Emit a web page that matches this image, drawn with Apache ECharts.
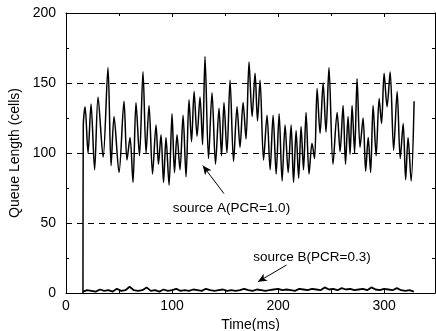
<!DOCTYPE html>
<html>
<head>
<meta charset="utf-8">
<script src="https://cdn.jsdelivr.net/npm/echarts@6/dist/echarts.min.js"></script>
<style>html,body{margin:0;padding:0;background:#fff}#c{width:436px;height:331px}</style>
</head>
<body>
<div id="c"></div>
<script>
// Source A (PCR=1.0): time (ms) and queue length (cells)
const timeA = [16, 16.3, 18, 20.8, 23.6, 27, 30.2, 35, 39.6, 42.5, 45.3, 50, 54.7, 57.5, 60.4, 63.2, 66, 69.3, 72.6, 75.5, 78.3, 81.6, 84.9, 87.2, 89.6, 92, 94.3, 97.2, 100, 102.3, 104.7, 107.5, 110.4, 113.2, 116, 118.4, 120.8, 123.6, 126.4, 128.8, 131.1, 134.4, 137.7, 141, 144.3, 146.7, 149, 151.8, 154.7, 158, 161.3, 164.1, 167, 169.8, 172.6, 175.5, 178.3, 180.6, 183, 186.3, 189.6, 192.5, 195.3, 198.2, 201, 203.8, 206.6, 209.5, 212.3, 214.6, 217, 219.4, 221.7, 224, 226.4, 229.2, 232, 234.4, 236.8, 239.6, 242.5, 245.2, 248, 251.8, 255.7, 258.5, 261.3, 263.6, 266, 267.9, 269.8, 272.2, 274.5, 277.3, 280.2, 282.6, 285, 287.3, 289.6, 292.5, 295.3, 297.6, 300, 302.8, 305.7, 309, 312.3, 315.2, 318, 320.3, 322.6, 325.5, 328.3];
const queueA = [0, 120, 133, 100, 135, 88, 140, 97, 161, 91, 126, 86, 137, 95, 111, 79, 136, 98, 158, 100, 134, 85, 120, 92, 113, 79, 111, 77, 128, 86, 113, 88, 127, 83, 138, 108, 144, 112, 140, 106, 169, 96, 143, 92, 132, 98, 136, 100, 152, 94, 133, 104, 136, 110, 165, 126, 157, 123, 152, 95, 127, 88, 127, 85, 128, 80, 120, 86, 120, 79, 116, 82, 119, 88, 129, 85, 107, 96, 146, 114, 150, 115, 161, 92, 129, 101, 134, 92, 126, 99, 134, 100, 153, 104, 125, 87, 111, 86, 134, 98, 139, 121, 157, 133, 158, 102, 144, 96, 121, 81, 111, 80, 137];

// Source B (PCR=0.3): sampled every 4 ms from 16 ms
const timeB = [16, 20, 24, 28, 32, 36, 40, 44, 48, 52, 56, 60, 64, 68, 72, 76, 80, 84, 88, 92, 96, 100, 104, 108, 112, 116, 120, 124, 128, 132, 136, 140, 144, 148, 152, 156, 160, 164, 168, 172, 176, 180, 184, 188, 192, 196, 200, 204, 208, 212, 216, 220, 224, 228, 232, 236, 240, 244, 248, 252, 256, 260, 264, 268, 272, 276, 280, 284, 288, 292, 296, 300, 304, 308, 312, 316, 320, 324, 328];
const queueB = [1, 2, 1.5, 1, 2.5, 1.5, 2, 1, 3, 1.5, 2, 4.5, 2, 1.5, 2, 4, 1.5, 2, 1, 2.5, 1.5, 2, 3, 1.5, 2, 1.5, 2.5, 2, 1.5, 3, 2, 1.5, 2, 2.5, 1.5, 2, 1.5, 2, 3, 2, 1.5, 2.5, 2, 1.5, 2, 2.5, 3, 2, 2.5, 2, 1.5, 3, 2.5, 2, 3, 2.5, 2, 4, 2.5, 3, 2, 3.5, 2.5, 3, 2, 2.5, 3, 2, 4, 2.5, 2, 3, 2.5, 2, 3.5, 2, 1.5, 2, 1];

const xTicks = [0, 100, 200, 300];
const yTicks = [0, 50, 100, 150, 200];
const refLines = [50, 100, 150];

const FONT = '"Liberation Sans", Arial, sans-serif';
const INK = '#000';

const dataA = timeA.map((t, i) => [t, queueA[i]]);
const dataB = timeB.map((t, i) => [t, queueB[i]]);

const chart = echarts.init(document.getElementById('c'));
const axisCommon = {
  axisLine: { show: true, onZero: false, lineStyle: { color: INK, width: 1 } },
  axisTick: { show: true, inside: true, length: 4, lineStyle: { color: INK } },
  minorTick: { show: true, splitNumber: 2, length: 3, lineStyle: { color: INK } },
  splitLine: { show: false }
};
chart.setOption({
  animation: false,
  backgroundColor: '#fff',
  grid: { left: 66, right: 1, top: 13, bottom: 38, containLabel: false, outerBoundsMode: 'none' },
  xAxis: [
    Object.assign({
      type: 'value', min: 0, max: 348, interval: 100, position: 'bottom',
      name: 'Time(ms)', nameLocation: 'middle', nameGap: 21,
      nameTextStyle: { fontFamily: FONT, fontSize: 14, color: INK },
      axisLabel: { fontFamily: FONT, fontSize: 14, color: INK, margin: 6,
        formatter: v => xTicks.includes(v) ? String(v) : '' }
    }, axisCommon),
    Object.assign({
      type: 'value', min: 0, max: 348, interval: 100, position: 'top',
      axisLabel: { show: false }
    }, axisCommon)
  ],
  yAxis: [
    Object.assign({
      type: 'value', min: 0, max: 200, interval: 50, position: 'left',
      name: 'Queue Length (cells)', nameLocation: 'middle', nameGap: 42,
      nameTextStyle: { fontFamily: FONT, fontSize: 14, color: INK },
      axisLabel: { fontFamily: FONT, fontSize: 14, color: INK, margin: 10,
        formatter: v => yTicks.includes(v) ? String(v) : '' }
    }, axisCommon),
    Object.assign({
      type: 'value', min: 0, max: 200, interval: 50, position: 'right',
      axisLabel: { show: false }
    }, axisCommon)
  ],
  series: [
    {
      name: 'source A', type: 'line', data: dataA, showSymbol: false, symbol: 'none',
      smooth: 0.3,
      lineStyle: { color: INK, width: 1.5 }, z: 3,
      markLine: {
        silent: true, symbol: ['none', 'none'], label: { show: false },
        lineStyle: { color: INK, width: 1, type: [6, 5] },
        data: refLines.map(v => ({ yAxis: v }))
      },
      markPoint: {
        symbol: 'rect', symbolSize: 1, itemStyle: { color: 'rgba(0,0,0,0)' },
        label: { show: true, position: 'inside', fontFamily: FONT, fontSize: 13.5, color: INK,
          formatter: p => p.name },
        data: [
          { name: 'source A(PCR=1.0)', coord: [156, 60.5] },
          { name: 'source B(PCR=0.3)', coord: [232, 25.7] }
        ]
      }
    },
    {
      name: 'source B', type: 'line', data: dataB, showSymbol: false, symbol: 'none',
      lineStyle: { color: INK, width: 1.8 }, z: 3,
      markLine: {
        silent: true, symbol: ['none', 'arrow'], symbolSize: [6, 9], label: { show: false },
        lineStyle: { color: INK, width: 1, type: 'solid' },
        data: [
          [{ coord: [149, 71] }, { coord: [129, 91] }],
          [{ coord: [208, 20] }, { coord: [181, 8] }]
        ]
      }
    }
  ]
});
</script>
</body>
</html>
